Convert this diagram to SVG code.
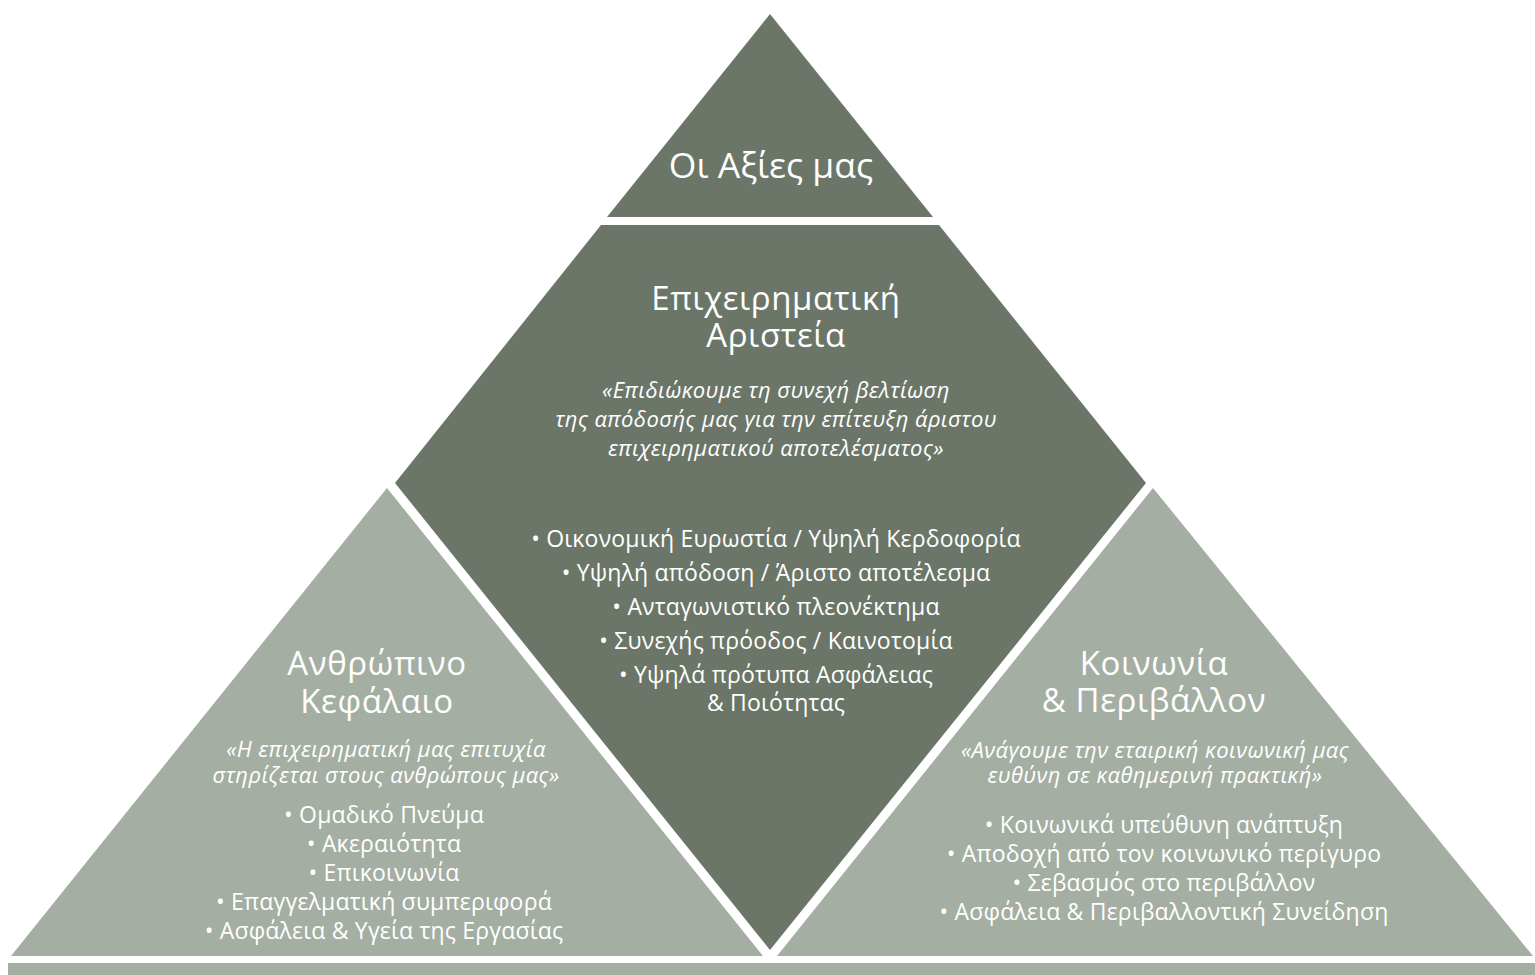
<svg xmlns="http://www.w3.org/2000/svg" width="1535" height="975" viewBox="0 0 1535 975">
<style>
.dark{fill:#6B7669}
.light{fill:#A5AEA3}
text{fill:#FFFFFF;font-family:"Open Sans","Noto Sans","DejaVu Sans",sans-serif;text-anchor:middle}
.h{font-size:33px;letter-spacing:0.6px}
.t{font-size:35.5px}
.q{font-size:22px;font-style:italic;letter-spacing:0.4px}
.b{font-size:23px;letter-spacing:0.2px}
</style>
<rect width="1535" height="975" fill="#FFFFFF"/>
<g id="base-bar"><rect class="light" x="8" y="963" width="1527" height="12"/></g>
<g id="node-values">
<polygon class="dark" points="770,14 607,217 933,217"/>
<text class="t" x="771" y="178">Οι Αξίες μας</text>
</g>
<g id="node-excellence">
<polygon class="dark" points="601,225 939,225 1146,483 770,950 395,483"/>
<text class="h" x="776" y="310">Επιχειρηματική</text>
<text class="h" x="776" y="347">Αριστεία</text>
<text class="q" x="776" y="398">«Επιδιώκουμε τη συνεχή βελτίωση</text>
<text class="q" x="776" y="427">της απόδοσής μας για την επίτευξη άριστου</text>
<text class="q" x="776" y="456">επιχειρηματικού αποτελέσματος»</text>
<text class="b" x="776" y="547">• Οικονομική Ευρωστία / Υψηλή Κερδοφορία</text>
<text class="b" x="776" y="581">• Υψηλή απόδοση / Άριστο αποτέλεσμα</text>
<text class="b" x="776" y="615">• Ανταγωνιστικό πλεονέκτημα</text>
<text class="b" x="776" y="649">• Συνεχής πρόοδος / Καινοτομία</text>
<text class="b" x="776" y="683">• Υψηλά πρότυπα Ασφάλειας</text>
<text class="b" x="776" y="711">&amp; Ποιότητας</text>
</g>
<g id="node-human">
<polygon class="light" points="387,488 11,956 763,956"/>
<text class="h" x="377" y="675">Ανθρώπινο</text>
<text class="h" x="377" y="713">Κεφάλαιο</text>
<text class="q" x="386" y="757">«Η επιχειρηματική μας επιτυχία</text>
<text class="q" x="386" y="783">στηρίζεται στους ανθρώπους μας»</text>
<text class="b" x="384" y="823">• Ομαδικό Πνεύμα</text>
<text class="b" x="384" y="852">• Ακεραιότητα</text>
<text class="b" x="384" y="881">• Επικοινωνία</text>
<text class="b" x="384" y="910">• Επαγγελματική συμπεριφορά</text>
<text class="b" x="384" y="939">• Ασφάλεια &amp; Υγεία της Εργασίας</text>
</g>
<g id="node-society">
<polygon class="light" points="1153,488 777,956 1533,956"/>
<text class="h" x="1154" y="675">Κοινωνία</text>
<text class="h" x="1154" y="712">&amp; Περιβάλλον</text>
<text class="q" x="1155" y="758">«Ανάγουμε την εταιρική κοινωνική μας</text>
<text class="q" x="1155" y="783">ευθύνη σε καθημερινή πρακτική»</text>
<text class="b" x="1164" y="833">• Κοινωνικά υπεύθυνη ανάπτυξη</text>
<text class="b" x="1164" y="862">• Αποδοχή από τον κοινωνικό περίγυρο</text>
<text class="b" x="1164" y="891">• Σεβασμός στο περιβάλλον</text>
<text class="b" x="1164" y="920">• Ασφάλεια &amp; Περιβαλλοντική Συνείδηση</text>
</g>
<g id="connectors"></g>
</svg>
